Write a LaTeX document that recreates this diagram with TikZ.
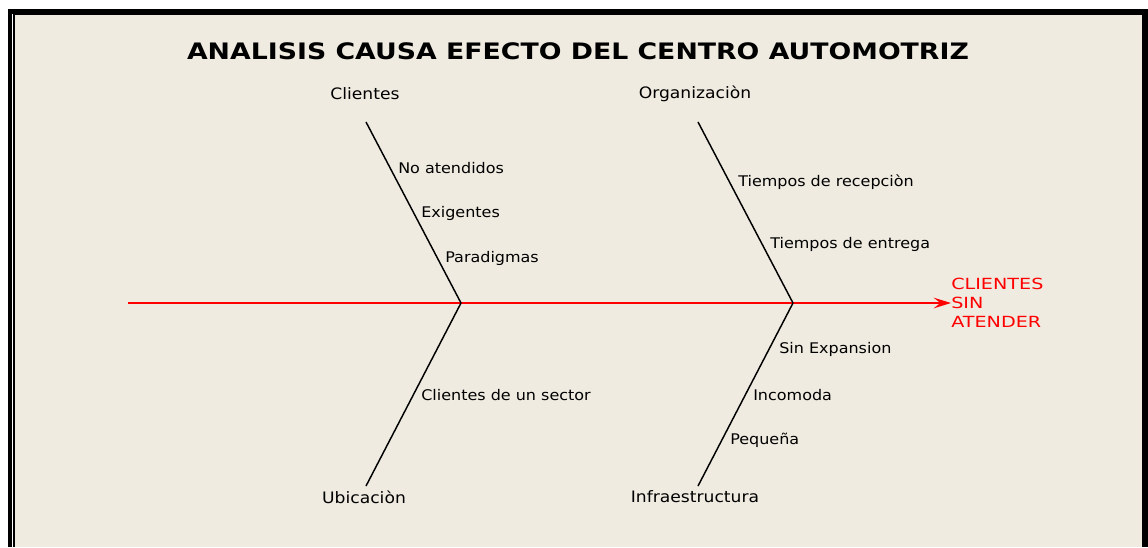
\documentclass[tikz,border=0pt]{standalone}
\usepackage{fontspec}
\setmainfont{DejaVu Sans}
\newfontfamily\titlefont[FakeStretch=1.18]{DejaVu Sans Bold}
\newfontfamily\labelfont[FakeStretch=1.09]{DejaVu Sans}
\newfontfamily\effectfont[FakeStretch=1.25]{DejaVu Sans}
\usetikzlibrary{arrows.meta}
\definecolor{paper}{RGB}{239,235,224}
\begin{document}
\begin{tikzpicture}[x=0.75pt,y=-0.75pt,>={Stealth[length=13pt,width=8pt,inset=5pt]},
	cause/.style={font=\labelfont\fontsize{11.8}{14}\selectfont,inner sep=0pt},
	sub/.style={font=\labelfont\fontsize{11}{13}\selectfont,anchor=west,inner sep=0pt},
	bone/.style={line width=1.1pt}]
	\useasboundingbox (0,0) rectangle (1148,547);
	\fill[white] (0,0) rectangle (1148,547);
	\fill[black] (8,9) rectangle (1148,547);
	\fill[paper] (15,15) rectangle (1142,547);
	\draw[white,line width=0.9pt] (12.5,14) -- (12.5,547);
	\node[inner sep=0pt] (title) at (578,51) {\titlefont\fontsize{17}{19}\selectfont ANALISIS CAUSA EFECTO DEL CENTRO AUTOMOTRIZ};
	% spine
	\coordinate (tail) at (128,303);
	\coordinate (j1) at (461,303);
	\coordinate (j2) at (793,303);
	\node[red,anchor=west,align=left,inner sep=0pt,font=\effectfont\fontsize{11.5}{14.3}\selectfont] (eff) at (951,303) {CLIENTES\\SIN\\ATENDER};
	\draw[red,line width=1.1pt,->] (tail) -- (eff.west);
	% causes
	\node[cause] (cli) at (365,94) {Clientes};
	\node[cause] (org) at (695,94) {Organizaciòn};
	\node[cause] (ubi) at (364,497) {Ubicaciòn};
	\node[cause] (inf) at (695,497) {Infraestructura};
	\coordinate (cli end) at (366,122);
	\coordinate (org end) at (698,122);
	\coordinate (ubi end) at (366,486);
	\coordinate (inf end) at (698,486);
	\draw[bone] (cli end) -- (j1);
	\draw[bone] (org end) -- (j2);
	\draw[bone] (ubi end) -- (j1);
	\draw[bone] (inf end) -- (j2);
	% sub causes
	\node[sub] (cli1) at (398,168) {No atendidos};
	\node[sub] (cli2) at (421,213) {Exigentes};
	\node[sub] (cli3) at (445,258) {Paradigmas};
	\node[sub] (org1) at (738,182) {Tiempos de recepciòn};
	\node[sub] (org2) at (770,244) {Tiempos de entrega};
	\node[sub] (ubi1) at (421,395) {Clientes de un sector};
	\node[sub] (inf1) at (779,349) {Sin Expansion};
	\node[sub] (inf2) at (753,395) {Incomoda};
	\node[sub] (inf3) at (730,440) {Pequeña};
\end{tikzpicture}
\end{document}
